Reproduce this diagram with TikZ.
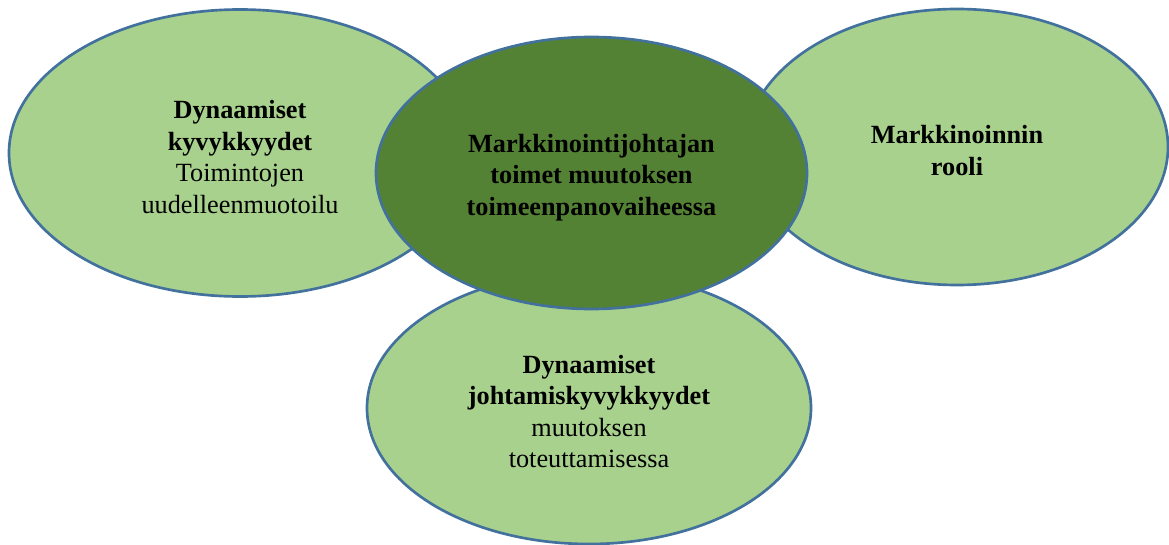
\documentclass[tikz,border=0pt]{standalone}
\usepackage{fontspec}
\setmainfont{Liberation Serif}
\usetikzlibrary{shapes.geometric}
\definecolor{lightgreen}{HTML}{A9D18E}
\definecolor{darkgreen}{HTML}{548235}
\definecolor{rim}{HTML}{41719C}
\begin{document}
\begin{tikzpicture}[x=0.75pt,y=-0.75pt,
  bubble/.style={ellipse, draw=rim, line width=2pt, fill=lightgreen,
    inner sep=0pt},
  core/.style={bubble, fill=darkgreen},
  caption/.style={inner sep=0pt, align=center,
    font=\fontsize{19.7}{23.6}\selectfont}]
\useasboundingbox (0,0) rectangle (1169,545);
% outer circles
\node[bubble, minimum width=346.5pt, minimum height=215.25pt] (caps) at (240,153) {};
\node[bubble, minimum width=316.5pt, minimum height=207pt] (role) at (957,147) {};
\node[bubble, minimum width=333pt, minimum height=204pt] (lead) at (589,408) {};
% central circle on top
\node[core, minimum width=323.25pt, minimum height=204pt] (main) at (591.5,173) {};
% texts
\node[caption] (capsText) at ([yshift=-3pt]caps.center)
  {\textbf{Dynaamiset}\\ \textbf{kyvykkyydet}\\ Toimintojen\\ uudelleenmuotoilu};
\node[caption] (roleText) at ([yshift=-2.5pt]role.center)
  {\textbf{Markkinoinnin}\\ \textbf{rooli}};
\node[caption] (leadText) at ([yshift=-2.5pt]lead.center)
  {\textbf{Dynaamiset}\\ \textbf{johtamiskyvykkyydet}\\ muutoksen\\ toteuttamisessa};
\node[caption] (mainText) at ([yshift=-3.5pt]main.center)
  {\textbf{Markkinointijohtajan}\\ \textbf{toimet muutoksen}\\ \textbf{toimeenpanovaiheessa}};
\end{tikzpicture}
\end{document}
